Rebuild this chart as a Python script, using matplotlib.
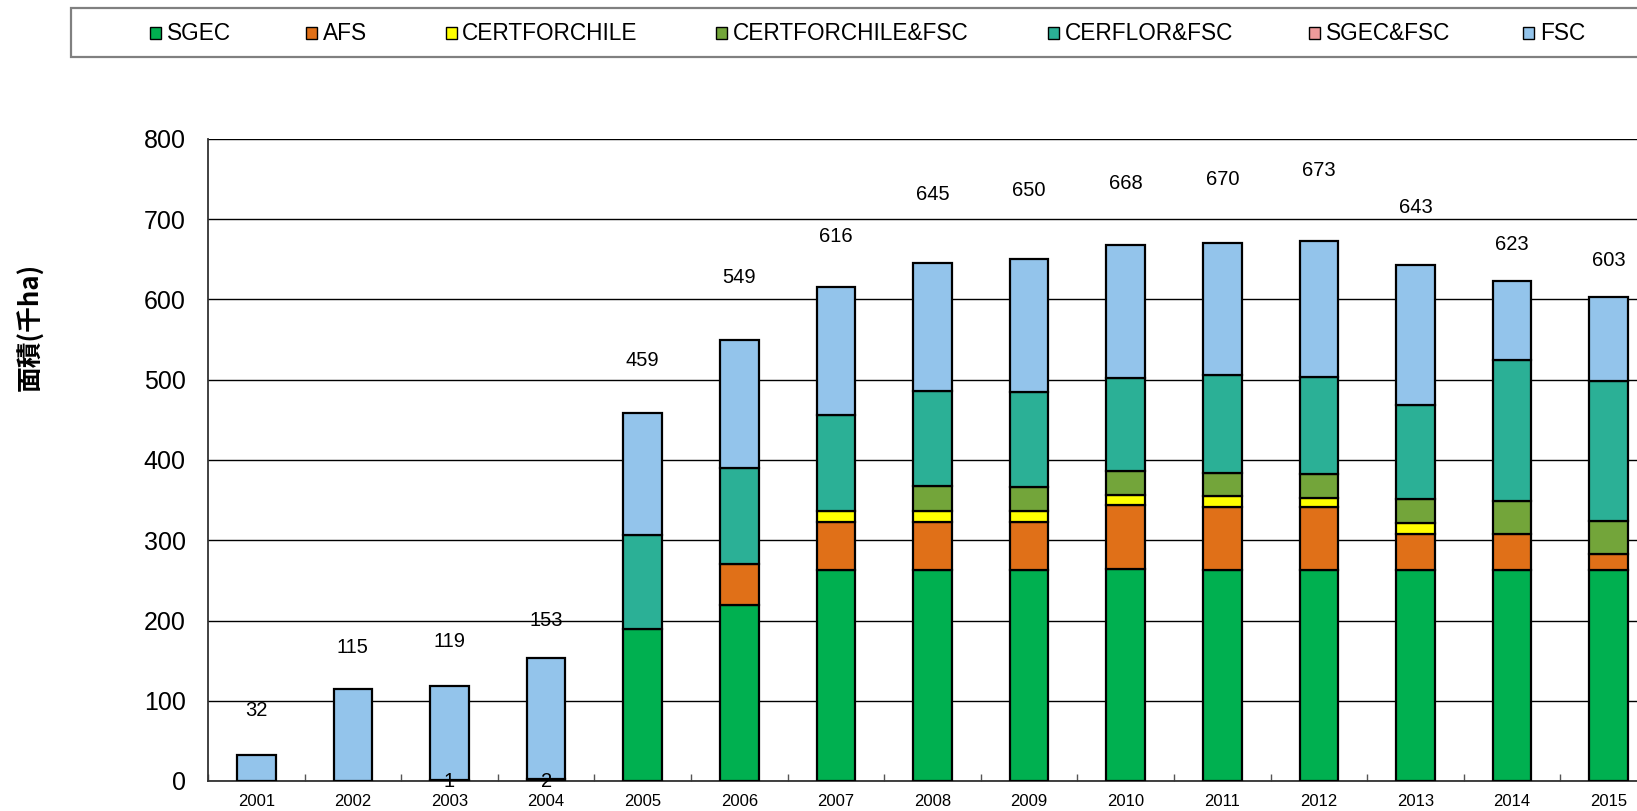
import matplotlib
matplotlib.use("Agg")
import matplotlib.pyplot as plt
from matplotlib.patches import Rectangle
import numpy as np

years = ["2001", "2002", "2003", "2004", "2005", "2006", "2007", "2008",
         "2009", "2010", "2011", "2012", "2013", "2014", "2015"]
series_names = ["SGEC", "AFS", "CERTFORCHILE", "CERTFORCHILE&FSC",
                "CERFLOR&FSC", "SGEC&FSC", "FSC"]
sgec = [0, 0, 1, 2, 189, 219, 263, 263, 263, 264, 263, 263, 263, 263, 263]
afs = [0, 0, 0, 0, 0, 51, 60, 60, 60, 80, 79, 78, 45, 45, 20]
certforchile = [0, 0, 0, 0, 0, 0, 14, 14, 13, 13, 13, 12, 14, 0, 0]
certforchile_fsc = [0, 0, 0, 0, 0, 0, 0, 30, 30, 29, 29, 30, 29, 41, 41]
cerflor_fsc = [0, 0, 0, 0, 118, 120, 119, 119, 119, 116, 122, 121, 118, 175, 175]
sgec_fsc = [0, 0, 0, 0, 0, 0, 0, 0, 0, 0, 0, 0, 0, 0, 0]
fsc = [32, 115, 118, 151, 152, 159, 160, 159, 165, 166, 164, 169, 174, 99, 104]
totals = [32, 115, 119, 153, 459, 549, 616, 645, 650, 668, 670, 673, 643, 623, 603]
small_labels = {2: "1", 3: "2"}

# label placement (offset above bar top, in data units)
label_offsets = [56, 51, 55, 47, 65, 78, 63, 86, 86, 77, 80, 88, 72, 45, 46]

colors = ["#00B050", "#E07018", "#FFFF00", "#73A53A", "#2BB096", "#EE9A9A", "#93C4EB"]
series = [sgec, afs, certforchile, certforchile_fsc, cerflor_fsc, sgec_fsc, fsc]

W, H = 1637, 811
fig = plt.figure(figsize=(W / 100, H / 100), dpi=100)
plt.rcParams['font.family'] = ['Liberation Sans', 'DejaVu Sans']

ax_left, ax_bottom, ax_right, ax_top = 208, 781, 1657, 139
ax = fig.add_axes([ax_left / W, (H - ax_bottom) / H,
                   (ax_right - ax_left) / W, (ax_bottom - ax_top) / H])

x = np.arange(len(years))
bottom = np.zeros(len(years))
for vals, col in zip(series, colors):
    v = np.array(vals, dtype=float)
    mask = v > 0
    ax.bar(x[mask], v[mask], width=0.4, bottom=bottom[mask], color=col,
           edgecolor="black", linewidth=1.6, zorder=3)
    bottom += v

for i, t in enumerate(totals):
    ax.text(x[i], t + label_offsets[i], str(t), ha="center", va="center",
            fontsize=14.5, color="black", zorder=5)
for i, s in small_labels.items():
    ax.text(x[i], -1, s, ha="center", va="center", fontsize=14.5, color="black", zorder=5)

ax.set_xlim(-0.5, len(years) - 0.5)
ax.set_ylim(0, 800)
ax.set_yticks(np.arange(0, 801, 100))
ax.yaxis.grid(True, color="black", linewidth=1.0, zorder=0)
ax.set_axisbelow(True)
ax.tick_params(axis="y", length=0, pad=16, labelsize=18)
ax.set_xticks(x)
ax.set_xticklabels(years)
ax.tick_params(axis="x", which="major", length=0, pad=9, labelsize=12)
ax.set_xticks(np.arange(-0.5, len(years), 1.0), minor=True)
ax.tick_params(axis="x", which="minor", direction="in", length=5, width=1, color="#555555")
for s in ["top", "right"]:
    ax.spines[s].set_visible(False)
ax.spines["left"].set_linewidth(1.3)
ax.spines["bottom"].set_linewidth(1.3)
ax.spines["left"].set_color("#333333")
ax.spines["bottom"].set_color("#333333")

fig.text(31 / W, (H - 327) / H, "面積(千ha)", rotation=90, ha="center", va="center",
         fontsize=18.5, fontweight="bold", family=["Noto Sans CJK JP", "DejaVu Sans"])

# legend box
box = Rectangle((71 / W, (H - 57) / H), (1700 - 71) / W, (57 - 8) / H,
                transform=fig.transFigure, facecolor="white", edgecolor="#808080",
                linewidth=1.6, clip_on=False)
fig.add_artist(box)
marker_x = [150, 306, 446, 716, 1048, 1309, 1523]
text_x = [167, 323, 462, 733, 1065, 1326, 1540]
yc = 33
for name, col, mx, tx in zip(series_names, colors, marker_x, text_x):
    fig.add_artist(Rectangle((mx / W, (H - yc - 6) / H), 11 / W, 12 / H,
                             transform=fig.transFigure, facecolor=col,
                             edgecolor="black", linewidth=1.0))
    fig.text(tx / W, (H - yc) / H, name, ha="left", va="center", fontsize=16.3)

fig.savefig("out.png", dpi=100)
